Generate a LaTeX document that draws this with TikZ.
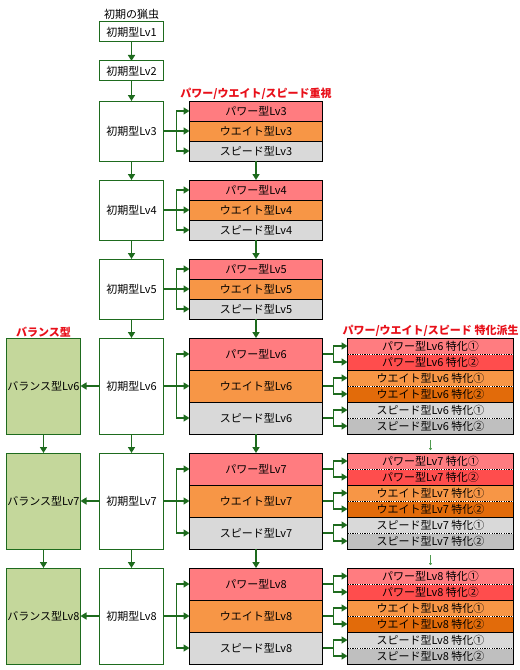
\documentclass[tikz,border=0pt]{standalone}
\usepackage{fontspec}
\setmainfont{Noto Sans CJK JP}
\usetikzlibrary{positioning, arrows.meta}
\definecolor{lvgreen}{HTML}{1E6B1E}
\definecolor{arrowlight}{HTML}{4E9A4E}
\definecolor{headred}{HTML}{E8101A}
\definecolor{pwcol}{HTML}{FF7C80}
\definecolor{pwdark}{HTML}{FF4D4D}
\definecolor{wtcol}{HTML}{F79646}
\definecolor{wtdark}{HTML}{E26B0A}
\definecolor{spcol}{HTML}{D9D9D9}
\definecolor{spdark}{HTML}{BFBFBF}
\definecolor{balcol}{HTML}{C4D79B}
\tikzstyle{init} = [rectangle, draw=lvgreen, fill=white, line width=1bp, inner sep=0pt, outer sep=0pt,
minimum width=64bp, minimum height=20bp, text centered]
\tikzstyle{bal} = [init, fill=balcol, minimum width=74bp, minimum height=96bp]
\tikzstyle{row} = [rectangle, draw=black, line width=.8bp, inner sep=0pt, outer sep=0pt, minimum width=133bp]
\tikzstyle{sub} = [rectangle, draw=black, line width=.8bp, inner sep=0pt, outer sep=0pt, minimum width=166bp, minimum height=16bp]
\tikzstyle{divider} = [draw=white, line width=.8bp, postaction={draw=black, dash pattern=on 1.2bp off 1.2bp}]
\tikzstyle{head} = [text=headred, font=\fontsize{11bp}{13bp}\selectfont\bfseries, inner sep=1bp]
\tikzstyle{link} = [draw=lvgreen, line width=1.6bp, -{Triangle[length=6bp, width=7bp]}]
\tikzstyle{minor} = [draw=arrowlight, line width=.7bp, -{To[length=2bp, width=3bp]}, shorten <=6bp, shorten >=3bp]

\begin{document}
\begin{tikzpicture}[x=1bp, y=1bp, node distance=19bp, font=\fontsize{11bp}{13bp}\selectfont]
	\useasboundingbox (0,0) rectangle (520,-670);
	
	% Place nodes
	\node [init] 									(lv1) at (131.5,-32)	{初期型Lv1};
	\node [above=1bp of lv1, inner sep=1bp]		(cap)					{初期の猟虫};
	\node [init, below=of lv1]						(lv2)					{初期型Lv2};
	\node [init, below=20bp of lv2, minimum height=60bp] (lv3)			{初期型Lv3};
	\foreach \i/\j in {3/4, 4/5}
		\node [init, below=of lv\i, minimum height=60bp] (lv\j)			{初期型Lv\j};
	\node [init, below=of lv5, minimum height=96bp]	(lv6)					{初期型Lv6};
	\foreach \i/\j in {6/7, 7/8}
		\node [init, below=of lv\i, minimum height=96bp] (lv\j)			{初期型Lv\j};
	
	% power / weight / speed rows
	\foreach \i/\h in {3/20bp, 4/20bp, 5/20bp, 6/32bp, 7/32bp, 8/32bp} {
		\node [row, fill=wtcol, minimum height=\h, right=26bp of lv\i]	(wt\i)	{ウエイト型Lv\i};
		\node [row, fill=pwcol, minimum height=\h, above=0bp of wt\i]	(pw\i)	{パワー型Lv\i};
		\node [row, fill=spcol, minimum height=\h, below=0bp of wt\i]	(sp\i)	{スピード型Lv\i};
		\path [link] (lv\i.east) -- ++(13bp,0) |- (pw\i.west);
		\path [link] (lv\i.east) -- (wt\i.west);
		\path [link] (lv\i.east) -- ++(13bp,0) |- (sp\i.west);
	}
	
	% specialised rows and balance type
	\foreach \i in {6,7,8} {
		\node [sub, fill=pwcol,  above right=0bp and 25bp of pw\i.east]	(pwa\i)	{パワー型Lv\i\ 特化①};
		\node [sub, fill=pwdark, below right=0bp and 25bp of pw\i.east]	(pwb\i)	{パワー型Lv\i\ 特化②};
		\node [sub, fill=wtcol,  above right=0bp and 25bp of wt\i.east]	(wta\i)	{ウエイト型Lv\i\ 特化①};
		\node [sub, fill=wtdark, below right=0bp and 25bp of wt\i.east]	(wtb\i)	{ウエイト型Lv\i\ 特化②};
		\node [sub, fill=spcol,  above right=0bp and 25bp of sp\i.east]	(spa\i)	{スピード型Lv\i\ 特化①};
		\node [sub, fill=spdark, below right=0bp and 25bp of sp\i.east]	(spb\i)	{スピード型Lv\i\ 特化②};
		\foreach \t in {pw, wt, sp} {
			\path [divider] (\t a\i.south west) -- (\t a\i.south east);
			\path [link] (\t\i.east) -- ++(11bp,0) |- (\t a\i.west);
			\path [link] (\t\i.east) -- ++(11bp,0) |- (\t b\i.west);
		}
		\node [bal, left=of lv\i]	(bal\i)	{バランス型Lv\i};
		\path [link] (lv\i.west) -- (bal\i.east);
	}
	
	% headings
	\node [head, above=0bp of pw3]		(headpws)	{パワー/ウエイト/スピード重視};
	\node [head, above=0bp of pwa6]	(headsub)	{パワー/ウエイト/スピード 特化派生};
	\node [head, above=0bp of bal6]	(headbal)	{バランス型};
	
	%Draw edges
	\path [link] (lv1) -- (lv2);
	\path [link] (lv2) -- (lv3);
	\foreach \i/\j in {3/4, 4/5, 5/6, 6/7, 7/8} {
		\path [link] (lv\i) -- (lv\j);
		\path [link] (sp\i) -- (pw\j);
	}
	\path [link] (bal6) -- (bal7);
	\path [link] (bal7) -- (bal8);
	\path [minor] (spb6) -- (pwa7);
	\path [minor] (spb7) -- (pwa8);
	
\end{tikzpicture}
\end{document}
